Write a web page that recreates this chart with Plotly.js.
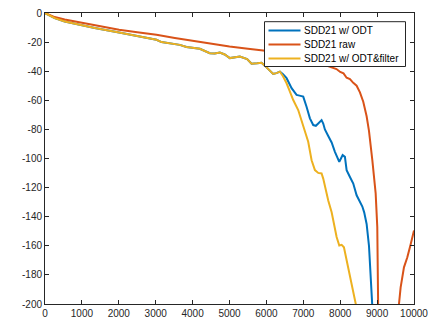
<!DOCTYPE html>
<html>
<head>
<meta charset="utf-8">
<script src="https://cdn.plot.ly/plotly-3.0.1.min.js"></script>
<style>html,body{margin:0;padding:0;background:#fff;}#plot{width:428px;height:320px;}</style>
</head>
<body>
<div id="plot"></div>
<script>
// Series names
const seriesNames = ["SDD21 w/ ODT", "SDD21 raw", "SDD21 w/ ODT&filter"];

// SDD21 w/ ODT (blue)
const odtX = [0, 100, 263, 534, 1004, 1348, 2007, 2704, 3021, 3157, 3382, 3518, 3653, 3834, 4196, 4467, 4600, 4738, 4870, 5009, 5281, 5478, 5598, 5750, 5869, 5950, 6050, 6184, 6270, 6366,
  6450, 6547, 6683, 6818, 6900, 6998, 7088, 7179, 7269, 7340, 7405, 7460, 7495, 7540, 7585, 7676, 7768, 7857, 7975, 8020, 8066, 8128, 8174, 8264, 8354, 8445, 8535, 8600, 8650, 8716, 8780, 8825, 8869, 8910];
const odtY = [0, -1.5, -3.5, -5.8, -8.5, -10.3, -13.4, -16.6, -18.4, -20, -20.7, -21.2, -21.9, -23.4, -24.6, -27.6, -27.8, -27.2, -28.5, -31, -29.9, -31.7, -34.8, -34.6, -34.2, -36, -38.6, -41.9, -41.3, -40.3,
  -42, -44.8, -51.7, -56.3, -56.8, -57.5, -64.4, -72.4, -77, -77.5, -75.9, -74, -73.6, -76, -80, -84.5, -89, -95.4, -102.3, -100, -97.7, -98.9, -108, -112.7, -117.2, -125.3, -129.9, -133, -137, -145, -160, -178, -197, -220];

// SDD21 raw (red)
const rawX = [0, 100, 263, 534, 1004, 1500, 2007, 2500, 3021, 3518, 4000, 4575, 5000, 5500, 5913, 6400, 7000, 7400, 7740, 7900, 8000, 8090, 8174, 8264, 8354, 8445, 8535, 8625, 8716, 8780, 8870, 8961, 9005, 9023, 9032, 9045, 9300, 9560, 9593, 9638, 9728, 9819, 9900, 10000];
const rawY = [0, -1, -2.8, -4.5, -6.9, -9.3, -11.5, -13.3, -15, -17.2, -19.2, -21.2, -23, -24.6, -25.8, -28, -31, -34, -36.8, -38.5, -40.5, -41.5, -44.5, -45.5, -48, -50, -54.5, -61, -71, -81, -101, -124, -147, -170, -200, -240, -330, -225, -200, -188.6, -174.8, -167.9, -160, -149.4];

// SDD21 w/ ODT&filter (yellow)
const filtX = [0, 100, 263, 534, 1004, 1348, 2007, 2704, 3021, 3157, 3382, 3518, 3653, 3834, 4196, 4467, 4600, 4738, 4870, 5009, 5281, 5478, 5598, 5750, 5869, 5950, 6050, 6184, 6270, 6366,
  6450, 6547, 6637, 6727, 6862, 6954, 7044, 7133, 7225, 7315, 7405, 7495, 7540, 7586, 7676, 7768, 7811, 7903, 7975, 8039, 8101, 8174, 8264, 8354, 8427, 8480];
const filtY = [0, -1.5, -3.5, -5.8, -8.5, -10.3, -13.4, -16.6, -18.4, -20, -20.7, -21.2, -21.9, -23.4, -24.6, -27.6, -27.8, -27.2, -28.5, -31, -29.9, -31.7, -34.8, -34.6, -34.2, -36, -38.6, -41.9, -41.3, -40.3,
  -43.5, -48.3, -54.1, -59.8, -66.7, -73.6, -80.5, -88.5, -101.2, -108, -109.9, -110.3, -113.8, -119.6, -128.8, -137, -143, -154, -159.8, -159.3, -161, -170.1, -181.7, -190.8, -200, -207];

// Axis ticks
const xTicks = [0, 1000, 2000, 3000, 4000, 5000, 6000, 7000, 8000, 9000, 10000];
const yTicks = [0, -20, -40, -60, -80, -100, -120, -140, -160, -180, -200];

const colors = ["#0072BD", "#D95319", "#EDB120"];
const FONT = "Liberation Sans, Arial, sans-serif";

const traces = [
  {x: odtX, y: odtY, name: seriesNames[0], mode: "lines", line: {color: colors[0], width: 2}},
  {x: rawX, y: rawY, name: seriesNames[1], mode: "lines", line: {color: colors[1], width: 2}},
  {x: filtX, y: filtY, name: seriesNames[2], mode: "lines", line: {color: colors[2], width: 2}}
];

// Plot area geometry (pixels)
const W = 428, H = 320, ML = 45, MR = 14, MT = 13, MB = 16;
const PW = W - ML - MR, PH = H - MT - MB;
const px2x = p => (p - ML) / PW;
const px2y = p => 1 - (p - MT) / PH;

// Compact MATLAB-style legend (box, samples, real text labels)
const legL = 264.5, legR = 405.5, legT = 21.7, legB = 66.5;
const rowY = [30.5, 44.5, 58.5];
const sampleL = 268.5, sampleR = 300.5, textL = 302.5;

const shapes = [{
  type: "rect", xref: "paper", yref: "paper",
  x0: px2x(legL), x1: px2x(legR), y0: px2y(legB), y1: px2y(legT),
  line: {color: "#262626", width: 1}, fillcolor: "#ffffff", layer: "above"
}];
const annotations = [];
seriesNames.forEach((nm, i) => {
  shapes.push({
    type: "line", xref: "paper", yref: "paper",
    x0: px2x(sampleL), x1: px2x(sampleR), y0: px2y(rowY[i]), y1: px2y(rowY[i]),
    line: {color: colors[i], width: 2}, layer: "above"
  });
  annotations.push({
    xref: "paper", yref: "paper", x: px2x(textL), y: px2y(rowY[i]),
    xanchor: "left", yanchor: "middle", showarrow: false, text: nm,
    font: {family: FONT, size: 10, color: "#000"}, borderpad: 0
  });
});

const axisCommon = {
  showgrid: false, zeroline: false, showline: true, linecolor: "#262626", linewidth: 1,
  mirror: "ticks", ticks: "inside", ticklen: 4, tickcolor: "#262626", tickwidth: 1,
  ticklabeloverflow: "allow",
  tickfont: {family: FONT, size: 10, color: "#262626"}
};

const layout = {
  width: W, height: H,
  margin: {l: ML, r: MR, t: MT, b: MB, pad: 0},
  paper_bgcolor: "#fff", plot_bgcolor: "#fff",
  showlegend: false,
  xaxis: Object.assign({}, axisCommon, {range: [0, 10000], tickvals: xTicks, ticktext: xTicks.map(String)}),
  yaxis: Object.assign({}, axisCommon, {range: [-200, 0], tickvals: yTicks, ticktext: yTicks.map(String)}),
  shapes: shapes,
  annotations: annotations
};

Plotly.newPlot("plot", traces, layout, {staticPlot: true, displayModeBar: false});
</script>
</body>
</html>
